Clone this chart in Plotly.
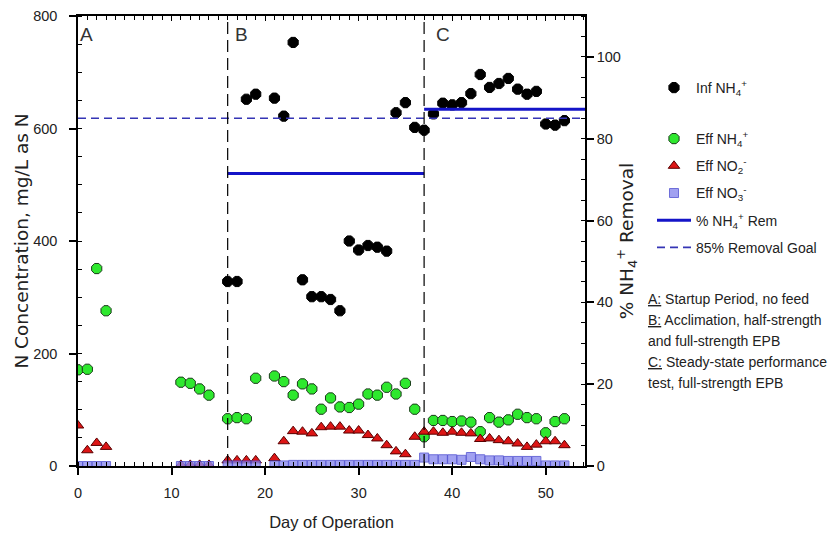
import plotly.graph_objects as go

# ---------------- data ----------------
inf_days = [16, 17, 18, 19, 21, 22, 23, 24, 25, 26, 27, 28, 29, 30, 31, 32, 33, 34, 35, 36,
            37, 38, 39, 40, 41, 42, 43, 44, 45, 46, 47, 48, 49, 50, 51, 52]
inf_nh4 = [328, 328, 652, 661, 654, 622, 753, 331, 301, 301, 296, 276, 400, 384, 392, 389, 382,
           628, 646, 602, 597, 626, 645, 642, 646, 662, 696, 673, 680, 689, 670, 661, 666, 608, 606, 614]

eff_days = [0, 1, 2, 3, 11, 12, 13, 14, 16, 17, 18, 19, 21, 22, 23, 24, 25, 26, 27, 28, 29, 30,
            31, 32, 33, 34, 35, 36, 37, 38, 39, 40, 41, 42, 43, 44, 45, 46, 47, 48, 49, 50, 51, 52]
eff_nh4 = [171, 172, 351, 276, 149, 147, 137, 126, 84, 86, 84, 156, 160, 150, 126, 146, 137, 101,
           121, 105, 104, 110, 128, 126, 140, 128, 147, 101, 52, 81, 81, 79, 80, 78, 61, 86, 78, 82,
           92, 86, 84, 59, 79, 84]
eff_no2 = [72, 28, 41, 34, 2, 2, 2, 2, 10, 10, 10, 10, 14, 44, 62, 61, 58, 69, 70, 70, 63, 63,
           55, 49, 37, 26, 21, 52, 61, 61, 59, 61, 59, 58, 48, 49, 46, 44, 40, 34, 38, 44, 44, 37]
eff_no3 = [0, 0, 0, 0, 0, 0, 0, 0, 1, 1, 1, 1, 1, 1, 2, 2, 2, 2, 2, 2, 2, 2,
           2, 2, 2, 2, 2, 2, 15, 12, 12, 12, 11, 16, 12, 10, 10, 9, 9, 9, 9, 1, 1, 1]

rem_days = [16, 37, None, 37, 54.2]
rem_pct = [71.5, 71.5, None, 87.2, 87.2]
goal_days = [0, 54.2]
goal_pct = [85, 85]

phase_bounds = [16, 37]
phase_labels = ["A", "B", "C"]
phase_starts = [0, 16, 37]

x_range = [0, 54.2]
y_range = [0, 800]
y2_range = [0, 110]

notes = [
    "<u>A:</u> Startup Period, no feed",
    "<u>B:</u> Acclimation, half-strength",
    "and full-strength EPB",
    "<u>C:</u> Steady-state performance",
    "test, full-strength EPB",
]

# ---------------- figure ----------------
W, H = 839, 535
ML, MR, MT, MB = 78, 254, 16, 69
PW, PH = W - ML - MR, H - MT - MB
TXT = "Liberation Sans, Arial, sans-serif"
TITLEF = "DejaVu Sans, Liberation Sans, sans-serif"

fig = go.Figure()

fig.add_trace(go.Scatter(
    x=inf_days, y=inf_nh4, mode="markers", name="Inf NH<sub>4</sub><sup>+</sup>",
    marker=dict(symbol="octagon", size=11, color="black", line=dict(color="black", width=1)),
    legend="legend", legendgroup="g0"))
fig.add_trace(go.Scatter(
    x=eff_days, y=eff_nh4, mode="markers", name="Eff NH<sub>4</sub><sup>+</sup>",
    marker=dict(symbol="octagon", size=11, color="#2ee82e", line=dict(color="#1a3a1a", width=1)),
    legend="legend2", legendgroup="g1"))
fig.add_trace(go.Scatter(
    x=eff_days, y=eff_no2, mode="markers", name="Eff NO<sub>2</sub><sup>-</sup>",
    marker=dict(symbol="triangle-up", size=10, color="#dd1515", line=dict(color="#5a0000", width=1)),
    legend="legend2", legendgroup="g2"))
fig.add_trace(go.Scatter(
    x=eff_days, y=eff_no3, mode="markers", name="Eff NO<sub>3</sub><sup>-</sup>",
    marker=dict(symbol="square", size=9, color="#8a8aee", opacity=0.8,
                line=dict(color="#4a4ad0", width=1)),
    legend="legend2", legendgroup="g3"))
fig.add_trace(go.Scatter(
    x=rem_days, y=rem_pct, mode="lines", name="% NH<sub>4</sub><sup>+</sup> Rem",
    line=dict(color="#1414c8", width=3), xaxis="x2", yaxis="y2",
    legend="legend2", legendgroup="g4"))
fig.add_trace(go.Scatter(
    x=goal_days, y=goal_pct, mode="lines", name="85% Removal Goal",
    line=dict(color="#3535b5", width=1.6, dash="8px,5px"), xaxis="x2", yaxis="y2",
    legend="legend2", legendgroup="g5"))

shapes = []
for b in phase_bounds:
    shapes.append(dict(type="line", xref="x", yref="paper", x0=b, x1=b, y0=0, y1=1,
                       line=dict(color="black", width=1.2, dash="12px,6px")))

label_shift = [0, 5, 10]
annotations = []
for lab, st, sh in zip(phase_labels, phase_starts, label_shift):
    annotations.append(dict(text=lab, x=st, xref="x", y=1, yref="paper", xanchor="left",
                            yanchor="top", xshift=sh, yshift=-6, showarrow=False,
                            font=dict(family=TXT, size=19, color="#333333")))
note_y = [299, 320, 341, 362, 383]
for t, yy in zip(notes, note_y):
    annotations.append(dict(text=t, x=(646 - ML) / PW, xref="paper",
                            y=1 - (yy - MT) / PH, yref="paper",
                            xanchor="left", yanchor="middle", showarrow=False,
                            font=dict(family=TXT, size=14, color="#222222")))

axis_common = dict(showgrid=False, zeroline=False, showline=True, linecolor="black",
                   linewidth=1.5, tickcolor="black", automargin=False)

fig.update_layout(
    width=W, height=H, autosize=False,
    margin=dict(l=ML, r=MR, t=MT, b=MB),
    plot_bgcolor="white", paper_bgcolor="white",
    shapes=shapes, annotations=annotations,
    xaxis=dict(**axis_common, range=x_range, tickvals=[0, 10, 20, 30, 40, 50],
               ticks="outside", ticklen=7, tickwidth=1.5, ticklabelstandoff=6,
               minor=dict(dtick=1, ticks="inside", ticklen=4, tickcolor="black", tickwidth=1),
               tickfont=dict(family=TXT, size=14.5, color="#222"),
               title=dict(text="Day of Operation", standoff=16,
                          font=dict(family=TXT, size=16.5, color="#222"))),
    xaxis2=dict(**axis_common, range=x_range, overlaying="x", side="top", anchor="y",
                tickvals=[0, 10, 20, 30, 40, 50], ticks="inside", ticklen=5, tickwidth=1.2,
                showticklabels=False,
                minor=dict(dtick=1, ticks="inside", ticklen=4, tickcolor="black", tickwidth=1)),
    yaxis=dict(**axis_common, range=y_range, tickvals=[0, 200, 400, 600, 800],
               ticks="outside", ticklen=7, tickwidth=1.5, ticklabelstandoff=9,
               minor=dict(dtick=50, ticks="inside", ticklen=4, tickcolor="black", tickwidth=1),
               tickfont=dict(family=TXT, size=14.5, color="#222"),
               title=dict(text="N Concentration, mg/L as N", standoff=0,
                          font=dict(family=TITLEF, size=18.5, color="#222"))),
    yaxis2=dict(**axis_common, range=y2_range, overlaying="y", side="right", anchor="x2",
                tickvals=[0, 20, 40, 60, 80, 100], ticks="outside", ticklen=7, tickwidth=1.5,
                ticklabelstandoff=0,
                minor=dict(dtick=5, ticks="inside", ticklen=4, tickcolor="black", tickwidth=1),
                tickfont=dict(family=TXT, size=14.5, color="#222"),
                title=dict(text="% NH<sub>4</sub><sup>+</sup> Removal", standoff=0,
                           font=dict(family=TITLEF, size=18.5, color="#222"))),
    legend=dict(xref="container", yref="container", x=652 / W, y=1 - 72 / H,
                xanchor="left", yanchor="top", bgcolor="rgba(0,0,0,0)",
                font=dict(family=TXT, size=14, color="#222"), itemwidth=34),
    legend2=dict(xref="container", yref="container", x=652 / W, y=1 - 123 / H,
                 xanchor="left", yanchor="top", bgcolor="rgba(0,0,0,0)",
                 font=dict(family=TXT, size=14, color="#222"), itemwidth=34,
                 tracegroupgap=6),
    showlegend=True,
)

fig.write_html("out.html")
